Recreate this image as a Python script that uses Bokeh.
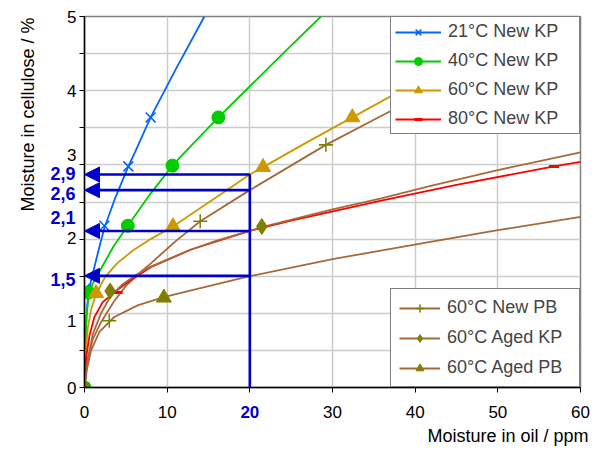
from bokeh.plotting import figure
from bokeh.models import (Range1d, FixedTicker, Legend, LegendItem, Arrow, NormalHead,
                          LinearAxis, Title)
from bokeh.embed import file_html
from bokeh.resources import INLINE

# ---------------- data ----------------
x_ticks = [0, 10, 20, 30, 40, 50, 60]
y_grid = [0, 0.5, 1, 1.5, 2, 2.5, 3, 3.5, 4, 4.5, 5]
y_tick_labels = ["0", "1", "2", "3", "4", "5"]
# where the y tick labels sit (nudged off the blue read-off labels, as in the original)
y_label_pos = [0, 0.89, 2.02, 3.14, 4, 5]

c21_x = [0, 0.1, 0.25, 0.5, 0.9, 1.7, 2.4, 3.7, 5.3, 6.1, 8.0, 11.0, 14.5]
c21_y = [0, 0.6, 1.0, 1.3, 1.49, 1.85, 2.15, 2.55, 2.98, 3.17, 3.64, 4.28, 5.0]
m21_x = [0, 0.05, 2.4, 5.3, 8.0]
m21_y = [0, 1.33, 2.18, 2.98, 3.64]

c40_x = [0, 0.1, 0.25, 0.5, 1.0, 2.1, 3.5, 5.24, 7.9, 10.64, 12.3, 16.2, 20.1, 24.0, 28.6]
c40_y = [0, 0.55, 0.95, 1.25, 1.4, 1.62, 1.9, 2.18, 2.6, 2.99, 3.19, 3.64, 4.07, 4.5, 5.0]
m40_x = [0, 0.5, 5.24, 10.64, 16.2]
m40_y = [0, 1.28, 2.18, 2.99, 3.64]

c60_x = [0, 0.15, 0.4, 0.8, 1.4, 2.5, 4.0, 5.9, 8.0, 10.7, 15.1, 20.0, 21.6, 27.0, 32.4, 37.3, 45.0, 52.0]
c60_y = [0, 0.45, 0.8, 1.05, 1.26, 1.49, 1.68, 1.85, 2.0, 2.17, 2.5, 2.87, 2.97, 3.31, 3.64, 3.94, 4.38, 4.77]
m60_x = [0, 1.4, 10.7, 21.6, 32.4]
m60_y = [0, 1.27, 2.17, 2.97, 3.64]

c80_x = [0, 0.2, 0.6, 1.2, 2.2, 3.6, 5.0, 8.0, 12.9, 20.0, 25.0, 35.9, 45.0, 56.8, 60.0]
c80_y = [0, 0.4, 0.7, 0.95, 1.15, 1.28, 1.4, 1.62, 1.86, 2.11, 2.25, 2.52, 2.73, 2.98, 3.04]
m80_x = [0, 4.0, 56.8]
m80_y = [0, 1.28, 2.98]

cnpb_x = [0, 0.3, 1.0, 2.0, 3.5, 5.0, 6.5, 8.0, 11.0, 14.0, 20.0, 29.2, 37.1, 45.0, 52.0]
cnpb_y = [0, 0.35, 0.65, 0.88, 1.15, 1.37, 1.53, 1.67, 1.97, 2.24, 2.66, 3.27, 3.73, 4.18, 4.55]
mnpb_x = [0, 3.0, 14.0, 29.2]
mnpb_y = [0, 0.9, 2.24, 3.27]

cakp_x = [0, 0.3, 1.0, 2.0, 3.1, 4.5, 6.0, 8.0, 12.9, 16.0, 20.0, 21.45, 30.0, 35.9, 42.0, 50.0, 60.0]
cakp_y = [0, 0.3, 0.72, 1.0, 1.22, 1.38, 1.5, 1.63, 1.86, 1.98, 2.11, 2.16, 2.4, 2.55, 2.72, 2.93, 3.17]
makp_x = [0, 3.1, 21.45]
makp_y = [0, 1.3, 2.17]

capb_x = [0, 0.3, 0.8, 1.8, 3.6, 6.5, 9.7, 12.9, 20.0, 30.0, 42.7, 50.0, 60.0]
capb_y = [0, 0.25, 0.5, 0.75, 0.95, 1.11, 1.22, 1.31, 1.5, 1.73, 1.98, 2.12, 2.3]
mapb_x = [0, 9.6]
mapb_y = [0, 1.21]

# read-off construction at 20 ppm
read_x = 20
read_values = [2.87, 2.66, 2.11, 1.505]
read_labels = ["2,9", "2,6", "2,1", "1,5"]
read_label_pos = [2.884, 2.615, 2.291, 1.456]

# ---------------- styles ----------------
FONT = "Liberation Sans"
BLUE = "#0066FF"
GREEN = "#00CC00"
GOLD = "#CC9900"
RED = "#FF0000"
BROWN = "#A66A3A"
OLIVE = "#808000"
NAVY = "#0000CC"

p = figure(width=601, height=450, x_range=Range1d(0, 60), y_range=Range1d(0, 5),
           output_backend="svg", toolbar_location=None,
           min_border_left=84, min_border_right=21, min_border_top=16, min_border_bottom=63)
p.background_fill_color = "white"
p.border_fill_color = "white"
p.outline_line_color = "#808080"
p.outline_line_width = 1.5

# ---- inner x axis: black labels, tick marks everywhere
xa = p.xaxis[0]
xa.ticker = FixedTicker(ticks=[t for t in x_ticks if t != read_x], minor_ticks=[read_x])
xa.major_tick_out = 5
xa.major_tick_in = 0
xa.minor_tick_out = 5
xa.minor_tick_in = 0
xa.major_label_standoff = 13
# ---- inner y axis: black labels (nudged), tick marks every 0.5
ya = p.yaxis[0]
ya.ticker = FixedTicker(ticks=y_label_pos, minor_ticks=y_grid)
ya.major_label_overrides = {v: t for v, t in zip(y_label_pos, y_tick_labels)}
ya.major_tick_out = 0
ya.major_tick_in = 0
ya.minor_tick_out = 5
ya.minor_tick_in = 0
ya.major_label_standoff = 3
for ax in (xa, ya):
    ax.axis_line_color = "black"
    ax.axis_line_width = 1.5
    ax.minor_tick_line_color = "black"
    ax.major_tick_line_color = "black" if ax is xa else None
    ax.major_label_text_font = FONT
    ax.major_label_text_font_size = "17px"
    ax.major_label_text_color = "black"

# ---- outer axes carrying the bold blue read-off labels
ya2 = LinearAxis(ticker=FixedTicker(ticks=read_label_pos, minor_ticks=[]),
                 major_label_overrides={v: t for v, t in zip(read_label_pos, read_labels)},
                 axis_line_color=None, major_tick_line_color=None, minor_tick_line_color=None,
                 major_tick_out=0, major_tick_in=0, minor_tick_out=0, minor_tick_in=0,
                 major_label_standoff=-11, major_label_text_font=FONT,
                 major_label_text_font_size="18px", major_label_text_font_style="bold",
                 major_label_text_color=NAVY)
p.add_layout(ya2, "left")
xa2 = LinearAxis(ticker=FixedTicker(ticks=[read_x], minor_ticks=[]),
                 axis_line_color=None, major_tick_line_color=None, minor_tick_line_color=None,
                 major_tick_out=0, major_tick_in=0, minor_tick_out=0, minor_tick_in=0,
                 major_label_standoff=-15, major_label_text_font=FONT,
                 major_label_text_font_size="17px", major_label_text_font_style="bold",
                 major_label_text_color=NAVY)
p.add_layout(xa2, "below")

# axis titles
p.add_layout(Title(text="Moisture in oil / ppm", align="right", offset=-8, standoff=6,
                   text_font=FONT, text_font_size="18px", text_font_style="normal",
                   text_color="black"), "below")
p.add_layout(Title(text="Moisture in cellulose / %", align="right", offset=1, standoff=19,
                   text_font=FONT, text_font_size="18px", text_font_style="normal",
                   text_color="black"), "left")

p.xgrid.ticker = FixedTicker(ticks=x_ticks)
p.ygrid.ticker = FixedTicker(ticks=y_grid)
p.xgrid.grid_line_color = "#CCCCCC"
p.ygrid.grid_line_color = "#CCCCCC"
p.xgrid.grid_line_width = 1.5
p.ygrid.grid_line_width = 1.5

LW = 1.8
l21 = p.line(c21_x, c21_y, line_color=BLUE, line_width=LW)
l40 = p.line(c40_x, c40_y, line_color=GREEN, line_width=LW)
l60 = p.line(c60_x, c60_y, line_color=GOLD, line_width=LW)
lnpb = p.line(cnpb_x, cnpb_y, line_color=BROWN, line_width=LW)
lapb = p.line(capb_x, capb_y, line_color=BROWN, line_width=LW)
l80 = p.line(c80_x, c80_y, line_color=RED, line_width=LW)
lakp = p.line(cakp_x, cakp_y, line_color=BROWN, line_width=LW)

s21 = p.scatter(m21_x, m21_y, marker="x", size=14, line_color=BLUE, line_width=1.6)
s40 = p.scatter(m40_x, m40_y, marker="circle", size=13, fill_color=GREEN, line_color=GREEN)
s60 = p.scatter(m60_x, m60_y, marker="triangle", size=15, fill_color=GOLD, line_color=GOLD)
s80 = p.scatter(m80_x, m80_y, marker="dash", size=10, line_color=RED, line_width=3)
snpb = p.scatter(mnpb_x, mnpb_y, marker="cross", size=14, line_color=OLIVE, line_width=1.6)
sakp = p.scatter(makp_x, makp_y, marker="diamond", size=16, fill_color=OLIVE, line_color=OLIVE)
sapb = p.scatter(mapb_x, mapb_y, marker="triangle", size=15, fill_color=OLIVE, line_color=OLIVE)

# read-off lines
p.segment(x0=[read_x], y0=[0], x1=[read_x], y1=[max(read_values)], line_color=NAVY, line_width=2.6)
for v in read_values:
    p.add_layout(Arrow(end=NormalHead(size=15, fill_color=NAVY, line_color=NAVY, line_width=1),
                       x_start=read_x, y_start=v, x_end=0, y_end=v,
                       line_color=NAVY, line_width=2.6))

legend1 = Legend(items=[
    LegendItem(label="21°C New KP", renderers=[l21, s21]),
    LegendItem(label="40°C New KP", renderers=[l40, s40]),
    LegendItem(label="60°C New KP", renderers=[l60, s60]),
    LegendItem(label="80°C New KP", renderers=[l80, s80]),
], location="top_right", margin=0, padding=4, spacing=8, glyph_height=20, label_height=20,
    glyph_width=46, label_standoff=7, label_width=127, border_line_color="black",
    border_line_width=1, background_fill_color="white", background_fill_alpha=1,
    label_text_font=FONT, label_text_font_size="18px")

legend2 = Legend(items=[
    LegendItem(label="60°C New PB", renderers=[lnpb, snpb]),
    LegendItem(label="60°C Aged KP", renderers=[lakp, sakp]),
    LegendItem(label="60°C Aged PB", renderers=[lapb, sapb]),
], location="bottom_right", margin=0, padding=8, spacing=9, glyph_height=20, label_height=20,
    glyph_width=41, label_standoff=7, label_width=124, border_line_color="black",
    border_line_width=1, background_fill_color="white", background_fill_alpha=1,
    label_text_font=FONT, label_text_font_size="18px")

p.add_layout(legend1)
p.add_layout(legend2)

open("out.html", "w").write(file_html(p, INLINE))
